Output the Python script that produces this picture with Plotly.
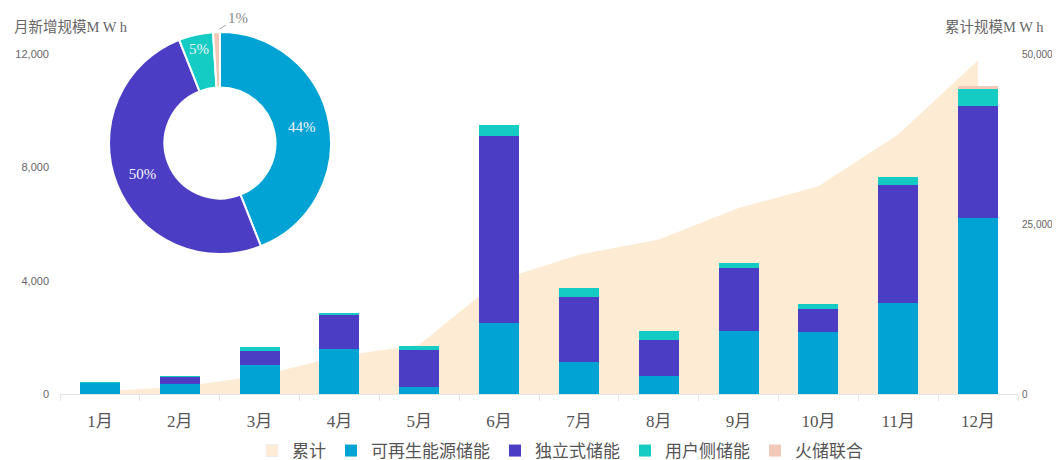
import plotly.graph_objects as go

# ---------------- data ----------------
months = ["1月", "2月", "3月", "4月", "5月", "6月", "7月", "8月", "9月", "10月", "11月", "12月"]
renewable = [390, 365, 1027, 1604, 234, 2513, 1119, 648, 2241, 2181, 3221, 6195]   # 可再生能源储能
standalone = [0, 250, 495, 1167, 1309, 6606, 2315, 1249, 2194, 828, 4152, 3964]   # 独立式储能
user_side = [10, 8, 142, 82, 156, 389, 293, 344, 202, 177, 273, 613]              # 用户侧储能
thermal = [0, 0, 0, 0, 0, 0, 0, 0, 0, 0, 0, 116]                                  # 火储联合
cumulative = [400, 1020, 2690, 5540, 7240, 16750, 20470, 22710, 27350, 30540, 38180, 49070]  # 累计

pie_labels = ["可再生能源储能", "独立式储能", "用户侧储能", "火储联合"]
pie_shares = [44, 50, 5, 1]

left_ticks = [0, 4000, 8000, 12000]
right_ticks = [0, 25000, 50000]

# ---------------- styles ----------------
C_AREA = "#FDEBD4"
C_BLUE = "#00A3D4"
C_PURPLE = "#4C3EC4"
C_TEAL = "#14CCC4"
C_FIRE = "#F2C8B8"
SERIF = "Liberation Serif, Noto Sans CJK SC, sans-serif"
SANS = "Liberation Sans, Noto Sans CJK SC, sans-serif"

# page body has an 8px margin -> figure occupies window pixels 8..1060
OFF = 8
W, H = 1052, 452
ML, MR, MT, MB = 52, 42, 12, 66
PW, PH = W - ML - MR, H - MT - MB


def px(x):  # window pixel x -> paper x
    return (x - OFF - ML) / PW


def py(y):  # window pixel y -> paper y
    return (H - MB - (y - OFF)) / PH


fig = go.Figure()

# cumulative area (right axis); its legend entry is shown as a square swatch
fig.add_trace(go.Scatter(
    x=months, y=cumulative, name="累计", mode="none",
    fill="tozeroy", fillcolor=C_AREA, legendgroup="cum", showlegend=False,
    yaxis="y", hoverinfo="y"))
fig.add_trace(go.Bar(x=[None], y=[None], name="累计", legendgroup="cum",
                     marker=dict(color=C_AREA), yaxis="y2", hoverinfo="skip"))

for name, vals, col in [("可再生能源储能", renewable, C_BLUE),
                        ("独立式储能", standalone, C_PURPLE),
                        ("用户侧储能", user_side, C_TEAL),
                        ("火储联合", thermal, C_FIRE)]:
    fig.add_trace(go.Bar(x=months, y=vals, name=name, marker=dict(color=col, line=dict(width=0)),
                         yaxis="y2"))

fig.add_trace(go.Pie(
    labels=pie_labels, values=pie_shares, hole=0.5, sort=False, direction="clockwise",
    rotation=0, showlegend=False,
    marker=dict(colors=[C_BLUE, C_PURPLE, C_TEAL, C_FIRE], line=dict(color="white", width=2)),
    texttemplate=["%{percent}", "%{percent}", "%{percent}", ""],
    textposition="inside", insidetextorientation="horizontal",
    textfont=dict(family=SERIF, size=15, color="#F4F4F4"),
    domain=dict(x=[px(220 - 111), px(220 + 111)], y=[py(143 + 111), py(143 - 111)]),
))

fig.update_layout(
    width=W, height=H,
    margin=dict(l=ML, r=MR, t=MT, b=MB, autoexpand=False),
    paper_bgcolor="white", plot_bgcolor="white",
    barmode="stack", bargap=0.5,
    showlegend=True,
    legend=dict(orientation="h", x=px(560), xanchor="center", y=py(451), yanchor="middle",
                traceorder="normal", font=dict(family=SERIF, size=17, color="#555"),
                itemwidth=30),
    xaxis=dict(type="category", showgrid=False, zeroline=False, showline=True,
               linecolor="#E4E4E4", linewidth=1, ticks="outside", tickson="boundaries",
               ticklen=6, tickcolor="#E4E4E4", ticklabelstandoff=12, automargin=False,
               tickfont=dict(family=SERIF, size=17, color="#555")),
    yaxis=dict(side="right", range=[0, 50000], tickvals=right_ticks, tickformat=",",
               showgrid=False, zeroline=False, showline=False, domain=[0, py(54)],
               ticklabelstandoff=3, automargin=False,
               tickfont=dict(family=SANS, size=10, color="#666")),
    yaxis2=dict(side="left", overlaying="y", range=[0, 12000], tickvals=left_ticks,
                tickformat=",", showgrid=False, zeroline=False, showline=False,
                ticklabelstandoff=10, automargin=False,
                tickfont=dict(family=SANS, size=11, color="#666")),
    annotations=[
        dict(text="月新增规模M W h", xref="paper", yref="paper", x=px(12), y=py(27),
             xanchor="left", yanchor="middle", showarrow=False,
             font=dict(family=SERIF, size=14.5, color="#666")),
        dict(text="累计规模M W h", xref="paper", yref="paper", x=px(1046), y=py(27),
             xanchor="right", yanchor="middle", showarrow=False,
             font=dict(family=SERIF, size=14.5, color="#666")),
        dict(text="1%", xref="paper", yref="paper", x=px(219.5), y=py(29),
             showarrow=True, arrowhead=0, arrowwidth=1, arrowcolor="#AAA",
             ax=18, ay=-11, font=dict(family=SERIF, size=15, color="#888")),
    ],
)

fig.write_html("out.html")
